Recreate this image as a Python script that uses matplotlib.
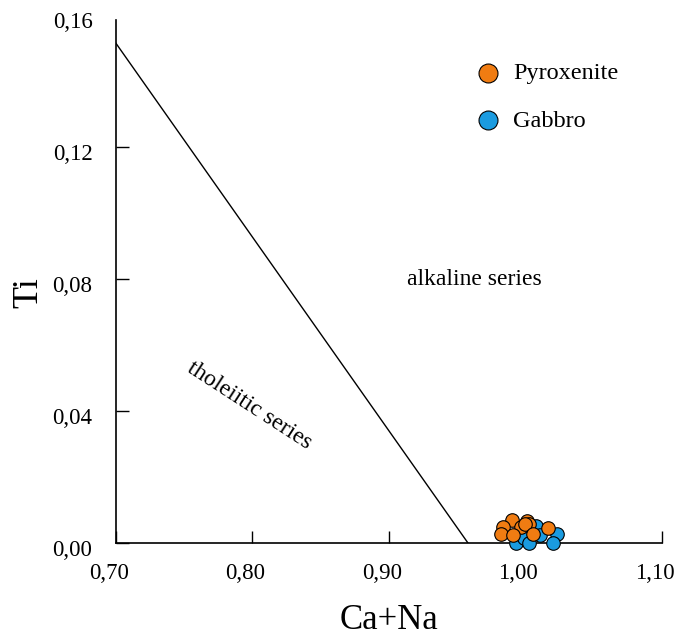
import matplotlib.pyplot as plt
import matplotlib.transforms as mtransforms

plt.rcParams['font.family'] = ['Liberation Serif', 'DejaVu Serif']

# Ca+Na vs Ti for clinopyroxenes
pyroxenite_cana = [0.990, 0.984, 0.982, 0.997, 0.991, 1.0015, 1.003, 0.9995, 1.006, 1.017]
pyroxenite_ti = [0.0070, 0.0049, 0.0028, 0.0049, 0.0023, 0.0067, 0.0057, 0.0059, 0.0028, 0.0046]
gabbro_cana = [0.993, 0.999, 1.003, 1.008, 1.0105, 1.023, 1.0205]
gabbro_ti = [0.0, 0.0016, 0.0, 0.0051, 0.0025, 0.0028, 0.0]

# discrimination line between tholeiitic and alkaline fields
boundary_cana = [0.70, 0.958]
boundary_ti = [0.1514, 0.0]

xticks = [0.70, 0.80, 0.90, 1.00, 1.10]
yticks = [0.00, 0.04, 0.08, 0.12, 0.16]


def main():
    fig = plt.figure(figsize=(6.76, 6.37), dpi=100)
    ax = fig.add_axes([0.1716, 0.1476, 0.8072, 0.8289])

    ax.plot(boundary_cana, boundary_ti, color='black', lw=1.0)

    ax.scatter(gabbro_cana, gabbro_ti, s=95, c='#1a9be0', edgecolors='black',
               linewidths=0.8, clip_on=False, zorder=3, label='Gabbro')
    ax.scatter(pyroxenite_cana, pyroxenite_ti, s=95, c='#f07c12', edgecolors='black',
               linewidths=0.8, clip_on=False, zorder=4, label='Pyroxenite')

    ax.set_xlim(0.70, 1.10)
    ax.set_ylim(0.0, 0.16)
    ax.set_xticks(xticks)
    ax.set_yticks(yticks)
    ax.set_xticklabels([f'{v:.2f}'.replace('.', ',') for v in xticks])
    ax.set_yticklabels([f'{v:.2f}'.replace('.', ',') for v in yticks])
    ax.tick_params(direction='in', length=9, width=1, labelsize=16.5, colors='black')
    ax.tick_params(axis='x', pad=14.5)
    ax.tick_params(axis='y', pad=17)
    ax.yaxis.get_major_ticks()[-1].tick1line.set_visible(False)

    # labels sit slightly left / below their ticks
    dx = mtransforms.ScaledTranslation(-7 / 100, 0, fig.dpi_scale_trans)
    for lab in ax.get_xticklabels():
        lab.set_transform(lab.get_transform() + dx)
    dy = mtransforms.ScaledTranslation(0, -5 / 100, fig.dpi_scale_trans)
    for lab in ax.get_yticklabels():
        lab.set_transform(lab.get_transform() + dy)

    for side in ['top', 'right']:
        ax.spines[side].set_visible(False)
    for side in ['left', 'bottom']:
        ax.spines[side].set_linewidth(1.2)
    ax.spines['left'].set_bounds(0.0, 0.1585)

    ax.set_xlabel('Ca+Na', fontsize=25, labelpad=14)
    ax.set_ylabel('Ti', fontsize=26, labelpad=5)
    ax.yaxis.label.set_y(0.475)

    ax.text(0.963, 0.0797, 'alkaline series', fontsize=17, ha='center', va='center')
    ax.text(0.798, 0.0415, 'tholeiitic series', fontsize=17, ha='center', va='center',
            rotation=-33)

    handles, labels = ax.get_legend_handles_labels()
    ax.legend(handles[::-1], labels[::-1], loc='upper left', bbox_to_anchor=(0.598, 0.952),
              frameon=False, fontsize=17.5, handletextpad=0.0, labelspacing=1.05,
              markerscale=1.4, scatterpoints=1)

    plt.savefig('out.png')


if __name__ == '__main__':
    main()
